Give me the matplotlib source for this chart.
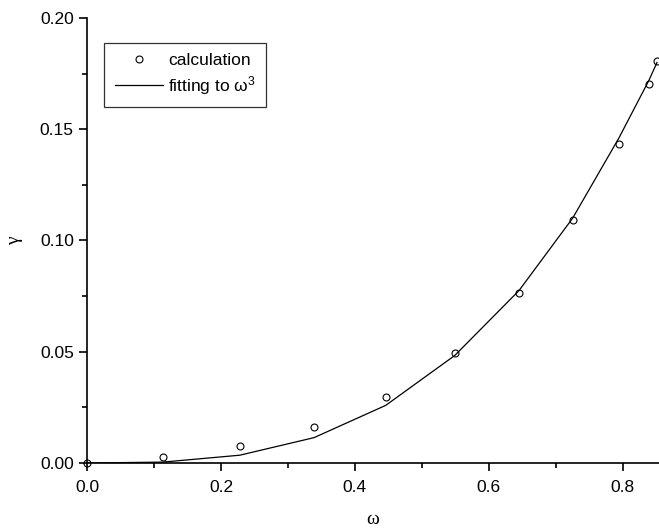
import numpy as np
import matplotlib
matplotlib.use("Agg")
import matplotlib.pyplot as plt
from matplotlib.ticker import MultipleLocator

# data
omega = [0.0, 0.113, 0.228, 0.339, 0.446, 0.549, 0.645, 0.725, 0.794, 0.839, 0.851]
gamma_calc = [0.0, 0.0027, 0.0076, 0.0162, 0.0295, 0.0493, 0.0763, 0.1093, 0.1434, 0.1705, 0.1807]
gamma_fit = [0.0, 0.0004, 0.0035, 0.0114, 0.0259, 0.0483, 0.0775, 0.1100, 0.1460, 0.1720, 0.1800]

plt.rcParams['font.family'] = ['Liberation Sans', 'DejaVu Sans']
plt.rcParams['mathtext.fontset'] = 'custom'
plt.rcParams['mathtext.rm'] = 'Liberation Sans'

fig = plt.figure(figsize=(6.59, 5.32), dpi=100)
ax = fig.add_axes([87/659, 1 - 463/532, 1 - 87/659, (463 - 18)/532])

ax.plot(omega, gamma_calc, 'o', mfc='none', mec='black', mew=0.8, ms=5,
        label='calculation', clip_on=False, zorder=3)
ax.plot(omega, gamma_fit, '-', color='black', lw=0.9, label=r'fitting to ω$\mathregular{^3}$')

ax.set_xlim(0, 0.854)
ax.set_ylim(0, 0.20)
ax.xaxis.set_major_locator(MultipleLocator(0.2))
ax.xaxis.set_minor_locator(MultipleLocator(0.1))
ax.yaxis.set_major_locator(MultipleLocator(0.05))
ax.yaxis.set_minor_locator(MultipleLocator(0.025))
ax.xaxis.set_major_formatter(matplotlib.ticker.FormatStrFormatter('%.1f'))
ax.yaxis.set_major_formatter(matplotlib.ticker.FormatStrFormatter('%.2f'))

for s in ['top', 'right']:
    ax.spines[s].set_visible(False)
for s in ['left', 'bottom']:
    ax.spines[s].set_linewidth(1.2)
ax.tick_params(which='major', direction='out', length=6, width=1.2, labelsize=12.5)
ax.tick_params(axis='x', which='major', pad=6)
ax.tick_params(which='minor', direction='out', length=3.5, width=1.2)

ax.set_xlabel('ω', family='Liberation Serif', fontsize=14, labelpad=12)
ax.set_ylabel('γ', family='Liberation Serif', fontsize=14, labelpad=12)

leg = ax.legend(loc='upper left', bbox_to_anchor=(0.03, 0.944), borderaxespad=0,
                fontsize=12.5, fancybox=False, frameon=True, edgecolor='black',
                handlelength=2.8, borderpad=0.6, labelspacing=0.3, handletextpad=0.3)
leg.get_frame().set_linewidth(0.9)

fig.savefig('out.png', dpi=100)
